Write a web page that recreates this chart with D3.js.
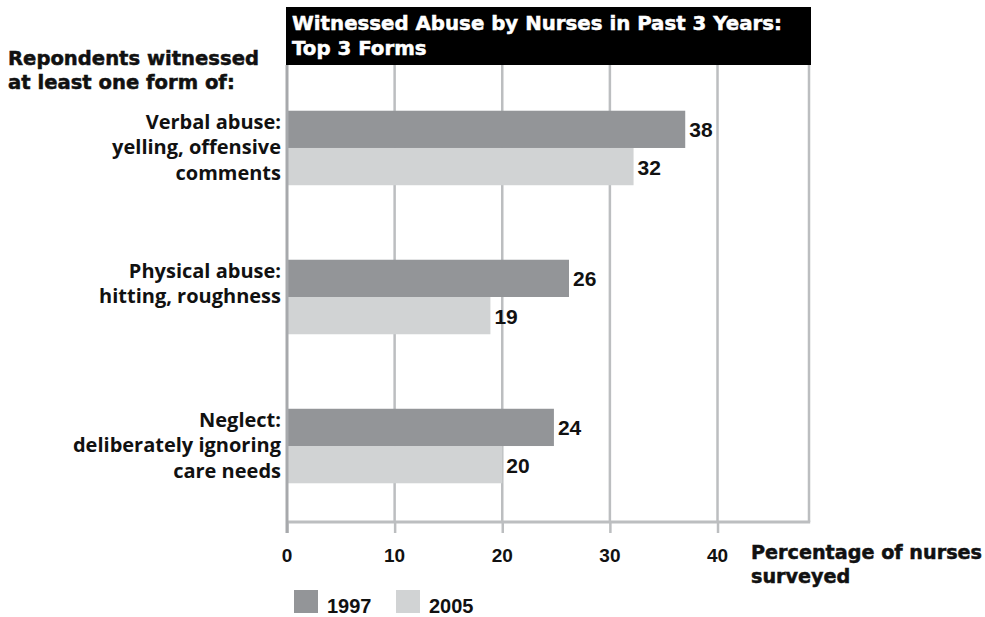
<!DOCTYPE html>
<html lang="en">
<head>
    <meta charset="UTF-8">
    <title>Witnessed Abuse by Nurses</title>
    <script src="https://d3js.org/d3.v7.min.js"></script>
    <style>
        body { margin: 0; background: #fff; }
        .lbl { font-family: 'Open Sans', sans-serif; font-weight: 700; fill: #111; }
        .heavy { font-family: 'DejaVu Sans', sans-serif; font-weight: 700; fill: #111; stroke: #111; stroke-width: 0.5px; }
        .num { font-family: 'Liberation Sans', Arial, sans-serif; font-weight: 700; fill: #111; }
    </style>
</head>
<body>
<svg id="chart" width="985" height="617"></svg>
<script>
    // --- data ---
    const categories = ["Verbal", "Physical", "Neglect"];
    const categoryLines = [
        ["Verbal abuse:", "yelling, offensive", "comments"],
        ["Physical abuse:", "hitting, roughness"],
        ["Neglect:", "deliberately ignoring", "care needs"]
    ];
    const years = ["1997", "2005"];
    const values1997 = [37.0, 26.2, 24.8];   // bar lengths
    const values2005 = [32.2, 18.9, 20.0];
    const labels1997 = ["38", "26", "24"];   // printed values
    const labels2005 = ["32", "19", "20"];
    const tickValues = [0, 10, 20, 30, 40];
    const colors = { "1997": "#939598", "2005": "#d1d3d4" };

    const svg = d3.select("#chart");
    const plotTop = 65, plotBottom = 522;

    const x = d3.scaleLinear().domain([0, 48.5]).range([287, 809]);
    const y = d3.scaleBand().domain(categories).range([69, 525])
        .paddingInner(0.5).paddingOuter(0.28);
    const ySub = d3.scaleBand().domain(years).range([0, y.bandwidth()]);

    // gridlines (not at 0) plus right border
    svg.append("g").selectAll("line")
        .data(tickValues.filter(d => d > 0).concat([48.5]))
        .join("line")
        .attr("x1", d => x(d)).attr("x2", d => x(d))
        .attr("y1", plotTop).attr("y2", plotBottom)
        .attr("stroke", "#bcbec0").attr("stroke-width", 2.5);

    // bottom axis with ticks hanging below
    const axis = svg.append("g")
        .attr("transform", `translate(0,${plotBottom})`)
        .call(d3.axisBottom(x).tickValues(tickValues).tickSize(11).tickFormat(""));
    axis.select(".domain").remove();
    axis.selectAll(".tick line").attr("stroke", "#bcbec0").attr("stroke-width", 2.5);
    svg.append("line")
        .attr("x1", x(0)).attr("x2", x(48.5) + 1.2)
        .attr("y1", plotBottom).attr("y2", plotBottom)
        .attr("stroke", "#bcbec0").attr("stroke-width", 3);

    svg.append("g").selectAll("text")
        .data(tickValues).join("text")
        .attr("class", "num")
        .attr("x", d => x(d)).attr("y", 562)
        .attr("text-anchor", "middle")
        .attr("font-size", 19)
        .text(d => d);

    // bars
    const rows = categories.map((c, i) => ({
        cat: c,
        bars: [
            { year: "1997", v: values1997[i], label: labels1997[i] },
            { year: "2005", v: values2005[i], label: labels2005[i] }
        ]
    }));

    const groups = svg.append("g").selectAll("g")
        .data(rows).join("g")
        .attr("transform", d => `translate(0,${y(d.cat)})`);

    groups.selectAll("rect")
        .data(d => d.bars).join("rect")
        .attr("x", x(0))
        .attr("y", d => ySub(d.year))
        .attr("width", d => x(d.v) - x(0))
        .attr("height", ySub.bandwidth())
        .attr("fill", d => colors[d.year]);

    groups.selectAll("text.num")
        .data(d => d.bars).join("text")
        .attr("class", "num")
        .attr("x", d => x(d.v) + 4)
        .attr("y", d => ySub(d.year) + ySub.bandwidth() / 2 + 8)
        .attr("font-size", 21)
        .text(d => d.label);

    // left axis line (on top of bars)
    svg.append("line")
        .attr("x1", x(0)).attr("x2", x(0))
        .attr("y1", plotTop).attr("y2", plotBottom + 11)
        .attr("stroke", "#a7a9ac").attr("stroke-width", 3);

    // category labels, top-aligned with the bar group
    categories.forEach((c, i) => {
        svg.append("text")
            .attr("class", "lbl")
            .attr("text-anchor", "end")
            .attr("font-size", 20)
            .selectAll("tspan")
            .data(categoryLines[i]).join("tspan")
            .attr("x", 281)
            .attr("y", (d, j) => y(c) + 18 + j * 25.5)
            .text(d => d);
    });

    // title box
    svg.append("rect")
        .attr("x", 286).attr("y", 7)
        .attr("width", 525).attr("height", 58)
        .attr("fill", "#000");
    svg.append("text")
        .attr("class", "heavy")
        .attr("font-size", 19.8)
        .style("fill", "#fff").style("stroke", "#fff")
        .selectAll("tspan")
        .data(["Witnessed Abuse by Nurses in Past 3 Years:", "Top 3 Forms"]).join("tspan")
        .attr("x", 292)
        .attr("y", (d, i) => 30 + i * 25)
        .text(d => d);

    // left header
    svg.append("text")
        .attr("class", "heavy")
        .attr("font-size", 19.6)
        .selectAll("tspan")
        .data(["Repondents witnessed", "at least one form of:"]).join("tspan")
        .attr("x", 8)
        .attr("y", (d, i) => 65 + i * 24)
        .text(d => d);

    // x axis title
    svg.append("text")
        .attr("class", "heavy")
        .attr("font-size", 19.2)
        .selectAll("tspan")
        .data(["Percentage of nurses", "surveyed"]).join("tspan")
        .attr("x", 751)
        .attr("y", (d, i) => 559 + i * 24)
        .text(d => d);

    // legend
    const legend = svg.append("g").selectAll("g")
        .data(years).join("g")
        .attr("transform", (d, i) => `translate(${294 + i * 102},590)`);
    legend.append("rect")
        .attr("width", 24).attr("height", 23)
        .attr("fill", d => colors[d]);
    legend.append("text")
        .attr("class", "num")
        .attr("x", 33).attr("y", 23)
        .attr("font-size", 20)
        .text(d => d);
</script>
</body>
</html>
